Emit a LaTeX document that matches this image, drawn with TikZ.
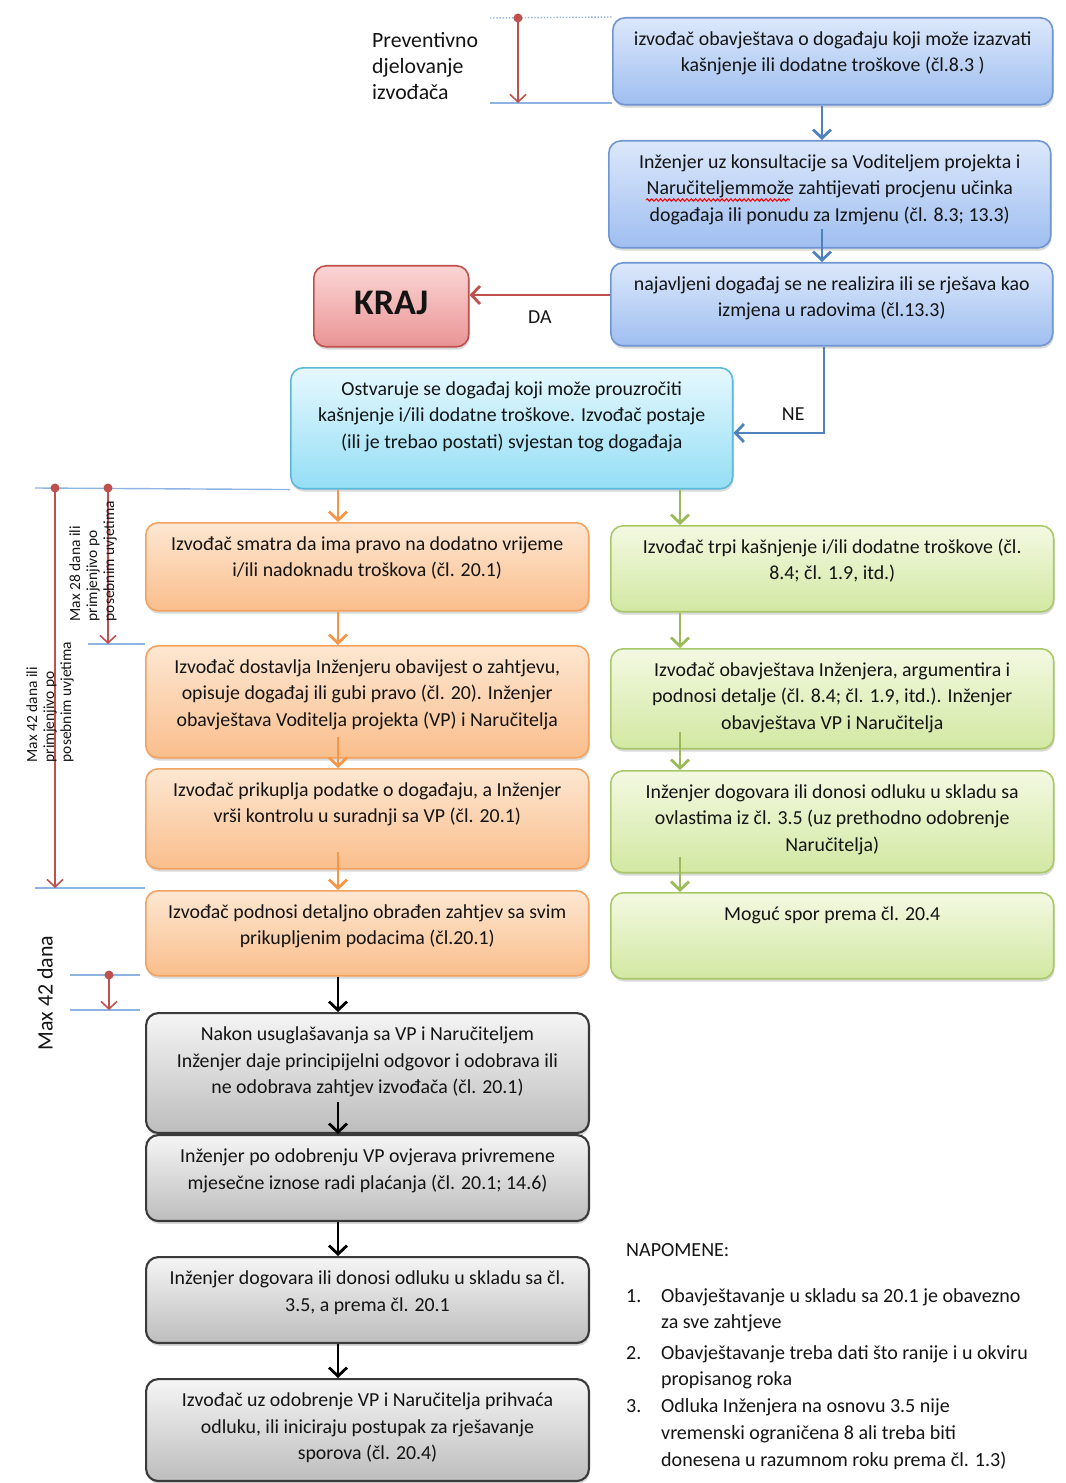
\documentclass[tikz,border=0pt]{standalone}
\usepackage{fontspec}
\setmainfont{Carlito}
\usetikzlibrary{arrows.meta,shadows,decorations.pathmorphing}

% --- boje ---
\definecolor{plavaRub}{HTML}{6F95D2}
\definecolor{plavaGore}{HTML}{DCE8FB}
\definecolor{plavaDolje}{HTML}{9FBEF0}
\definecolor{plavaStr}{HTML}{4F81BD}
\definecolor{crvenaRub}{HTML}{C0504D}
\definecolor{crvenaGore}{HTML}{FBD5D5}
\definecolor{crvenaDolje}{HTML}{EA9494}
\definecolor{cijanRub}{HTML}{5AB8D8}
\definecolor{cijanGore}{HTML}{E6F8FE}
\definecolor{cijanDolje}{HTML}{94DEF5}
\definecolor{narRub}{HTML}{F4A260}
\definecolor{narGore}{HTML}{FDE7D2}
\definecolor{narDolje}{HTML}{FABE8C}
\definecolor{narStr}{HTML}{F79646}
\definecolor{zelRub}{HTML}{A9C86A}
\definecolor{zelGore}{HTML}{F3F9E2}
\definecolor{zelDolje}{HTML}{D2E8A2}
\definecolor{zelStr}{HTML}{9BBB59}
\definecolor{sivaRub}{HTML}{3A3A3A}
\definecolor{sivaGore}{HTML}{F5F5F5}
\definecolor{sivaDolje}{HTML}{BDBDBD}
\definecolor{vodilica}{HTML}{8EB4E3}
\definecolor{mjera}{HTML}{C0504D}
\definecolor{tekst}{HTML}{141414}

% tekst poravnat uz vrh kutije
\newcommand{\flowtext}[3]{\parbox[c][#2][t]{#1}{\centering\rule{0pt}{15.5pt}#3\par}}

\tikzset{
  flowbox/.style={rounded corners=7pt, inner sep=0pt, line width=0.9pt, anchor=north west,
    text=tekst, font=\fontsize{11.3}{15.2}\selectfont,
    drop shadow={opacity=0.3, shadow xshift=0.5pt, shadow yshift=-1.6pt}},
  bluebox/.style={flowbox, draw=plavaRub, top color=plavaGore, bottom color=plavaDolje},
  redbox/.style={flowbox, draw=crvenaRub, top color=crvenaGore, bottom color=crvenaDolje},
  cyanbox/.style={flowbox, draw=cijanRub, top color=cijanGore, bottom color=cijanDolje},
  orangebox/.style={flowbox, draw=narRub, top color=narGore, bottom color=narDolje},
  greenbox/.style={flowbox, draw=zelRub, top color=zelGore, bottom color=zelDolje},
  graybox/.style={flowbox, line width=1.2pt, draw=sivaRub, top color=sivaGore, bottom color=sivaDolje},
  flow/.style={line width=1.6pt, -{Straight Barb[length=1.7mm,width=3.6mm]}},
  measure/.style={mjera, line width=0.9pt, -{Straight Barb[length=1.5mm,width=3.2mm]}},
  guide/.style={vodilica, line width=0.8pt},
  sidenote/.style={text=tekst, font=\fontsize{8.8}{9.7}\selectfont, align=left, rotate=90},
  edgetext/.style={text=tekst, font=\fontsize{11.3}{13}\selectfont},
}

\begin{document}
\begin{tikzpicture}[x=0.02cm, y=-0.02cm]
    \useasboundingbox (0,0) rectangle (1065,1483);

    % --- x položaji strelica ---
    \coordinate (xb) at (822,0);
    \coordinate (xn) at (824,0);
    \coordinate (xo) at (338,0);
    \coordinate (xg) at (680,0);
    \coordinate (yda) at (0,295);
    \coordinate (yne) at (0,433);

    % --- plave kutije (najava) ---
    \node[bluebox] (najava) at (612,17) {\flowtext{8.8cm}{1.74cm}{%
        izvođač obavještava o događaju koji može izazvati\\kašnjenje ili dodatne troškove (čl.8.3 )}};
    \node[bluebox] (procjena) at (608,140) {\flowtext{8.84cm}{2.14cm}{%
        Inženjer uz konsultacije sa Voditeljem projekta i\\Naručiteljemmože zahtijevati procjenu učinka\\događaja ili ponudu za Izmjenu (čl. 8.3; 13.3)}};
    \node[bluebox] (odluka) at (610,262) {\flowtext{8.84cm}{1.66cm}{%
        najavljeni događaj se ne realizira ili se rješava kao\\izmjena u radovima (čl.13.3)}};
    \node[redbox] (kraj) at (313,265) {\parbox[c][1.62cm][c]{3.1cm}{\centering\raisebox{4pt}{\fontsize{20.5}{23}\selectfont\bfseries KRAJ}}};
    \node[cyanbox] (dogadaj) at (290,367) {\flowtext{8.84cm}{2.42cm}{%
        Ostvaruje se događaj koji može prouzročiti\\kašnjenje i/ili dodatne troškove. Izvođač postaje\\(ili je trebao postati) svjestan tog događaja}};

    % --- lijevi stupac (zahtjev) ---
    \node[orangebox] (pravo) at (145,522) {\flowtext{8.86cm}{1.76cm}{%
        Izvođač smatra da ima pravo na dodatno vrijeme\\i/ili nadoknadu troškova (čl. 20.1)}};
    \node[orangebox] (obavijest) at (145,645) {\flowtext{8.86cm}{2.24cm}{%
        Izvođač dostavlja Inženjeru obavijest o zahtjevu,\\opisuje događaj ili gubi pravo (čl. 20). Inženjer\\obavještava Voditelja projekta (VP) i Naručitelja}};
    \node[orangebox] (podaci) at (145,768) {\flowtext{8.86cm}{2.0cm}{%
        Izvođač prikuplja podatke o događaju, a Inženjer\\vrši kontrolu u suradnji sa VP (čl. 20.1)}};
    \node[orangebox] (detalji) at (145,890) {\flowtext{8.86cm}{1.7cm}{%
        Izvođač podnosi detaljno obrađen zahtjev sa svim\\prikupljenim podacima (čl.20.1)}};

    % --- desni stupac ---
    \node[greenbox] (trpi) at (610,525) {\flowtext{8.86cm}{1.72cm}{%
        Izvođač trpi kašnjenje i/ili dodatne troškove (čl.\\8.4; čl. 1.9, itd.)}};
    \node[greenbox] (argument) at (610,648) {\flowtext{8.86cm}{2.0cm}{%
        Izvođač obavještava Inženjera, argumentira i\\podnosi detalje (čl. 8.4; čl. 1.9, itd.). Inženjer\\obavještava VP i Naručitelja}};
    \node[greenbox] (ovlasti) at (610,770) {\flowtext{8.86cm}{2.04cm}{%
        Inženjer dogovara ili donosi odluku u skladu sa\\ovlastima iz čl. 3.5 (uz prethodno odobrenje\\Naručitelja)}};
    \node[greenbox] (spor) at (610,892) {\flowtext{8.86cm}{1.72cm}{%
        Moguć spor prema čl. 20.4}};

    % --- sive kutije ---
    \node[graybox] (odgovor) at (145,1012) {\flowtext{8.86cm}{2.4cm}{%
        Nakon usuglašavanja sa VP i Naručiteljem\\Inženjer daje principijelni odgovor i odobrava ili\\ne odobrava zahtjev izvođača (čl. 20.1)}};
    \node[graybox] (ovjera) at (145,1134) {\flowtext{8.86cm}{1.72cm}{%
        Inženjer po odobrenju VP ovjerava privremene\\mjesečne iznose radi plaćanja (čl. 20.1; 14.6)}};
    \node[graybox] (dogovor) at (145,1256) {\flowtext{8.86cm}{1.72cm}{%
        Inženjer dogovara ili donosi odluku u skladu sa čl.\\3.5, a prema čl. 20.1}};
    \node[graybox] (prihvat) at (145,1378) {\flowtext{8.86cm}{2.04cm}{%
        Izvođač uz odobrenje VP i Naručitelja prihvaća\\odluku, ili iniciraju postupak za rješavanje\\sporova (čl. 20.4)}};

    % crvena valovita crta ispod "Naručiteljemmože"
    \draw[red, line width=0.6pt, decorate, decoration={snake, amplitude=0.7pt, segment length=2.5pt}] (646,200) -- (790,200);

    % --- strelice ---
    \draw[flow, plavaStr] (najava.south -| xb) -- (procjena.north -| xb);
    \draw[flow, plavaStr] ([yshift=0.4cm]procjena.south -| xb) -- (odluka.north -| xb);
    \draw[flow, crvenaRub] (odluka.west |- yda) -- node[below=5pt, edgetext] {DA} (kraj.east |- yda);
    \draw[flow, plavaStr] (odluka.south -| xn) |- node[pos=0.67, above=3pt, edgetext] {NE} (dogadaj.east |- yne);

    \draw[flow, narStr] (dogadaj.south -| xo) -- (pravo.north -| xo);
    \draw[flow, narStr] (pravo.south -| xo) -- (obavijest.north -| xo);
    \draw[flow, narStr] ([yshift=0.44cm]obavijest.south -| xo) -- (podaci.north -| xo);
    \draw[flow, narStr] ([yshift=0.36cm]podaci.south -| xo) -- (detalji.north -| xo);

    \draw[flow, zelStr] (dogadaj.south -| xg) -- (trpi.north -| xg);
    \draw[flow, zelStr] (trpi.south -| xg) -- (argument.north -| xg);
    \draw[flow, zelStr] ([yshift=0.36cm]argument.south -| xg) -- (ovlasti.north -| xg);
    \draw[flow, zelStr] ([yshift=0.34cm]ovlasti.south -| xg) -- (spor.north -| xg);

    \draw[flow, black] (detalji.south -| xo) -- (odgovor.north -| xo);
    \draw[flow, black] ([yshift=0.64cm]odgovor.south -| xo) -- (ovjera.north -| xo);
    \draw[flow, black] (ovjera.south -| xo) -- (dogovor.north -| xo);
    \draw[flow, black] (dogovor.south -| xo) -- (prihvat.north -| xo);

    % --- preventivno djelovanje ---
    \node[anchor=north west, text=tekst, align=left, font=\fontsize{12.4}{14.8}\selectfont] (prev) at (366,26) {Preventivno\\djelovanje\\izvođača};
    \draw[vodilica, line width=0.8pt, densely dotted] (490,18) -- (najava.north west);
    \draw[guide] (490,103) -- (612,103);
    \fill[mjera] (518,18) circle (4.5);
    \draw[measure] (518,18) -- (518,103);

    % --- rokovi lijevo ---
    \draw[guide] (35,488) -- (dogadaj.south west);
    \draw[guide] (88,644) -- (145,644);
    \draw[guide] (35,888) -- (145,888);
    \fill[mjera] (55,488) circle (4.5);
    \draw[measure] (55,488) -- (55,888);
    \fill[mjera] (108,488) circle (4.5);
    \draw[measure] (108,488) -- (108,644);
    \node[sidenote] (rok28) at (93,561) {Max 28 dana ili\\primjenjivo po\\posebnim uvjetima};
    \node[sidenote] (rok42) at (50,702) {Max 42 dana ili\\primjenjivo po\\posebnim uvjetima};

    % --- max 42 dana ---
    \draw[guide] (70,975) -- (140,975);
    \draw[guide] (70,1010) -- (140,1010);
    \fill[mjera] (109,975) circle (4.5);
    \draw[measure] (109,975) -- (109,1010);
    \node[rotate=90, text=tekst, font=\fontsize{12.5}{14}\selectfont] (max42) at (45,993) {Max 42 dana};

    % --- napomene ---
    \node[anchor=north west, align=left, text=tekst, font=\fontsize{11.4}{15.2}\selectfont] (napomene) at (620,1237) {%
        NAPOMENE:\\[11pt]
        \makebox[0.7cm][l]{1.}Obavještavanje u skladu sa 20.1 je obavezno\\
        \hspace*{0.7cm}za sve zahtjeve\\[2pt]
        \makebox[0.7cm][l]{2.}Obavještavanje treba dati što ranije i u okviru\\
        \hspace*{0.7cm}propisanog roka\\
        \makebox[0.7cm][l]{3.}Odluka Inženjera na osnovu 3.5 nije\\
        \hspace*{0.7cm}vremenski ograničena 8 ali treba biti\\
        \hspace*{0.7cm}donesena u razumnom roku prema čl. 1.3)};

\end{tikzpicture}
\end{document}
